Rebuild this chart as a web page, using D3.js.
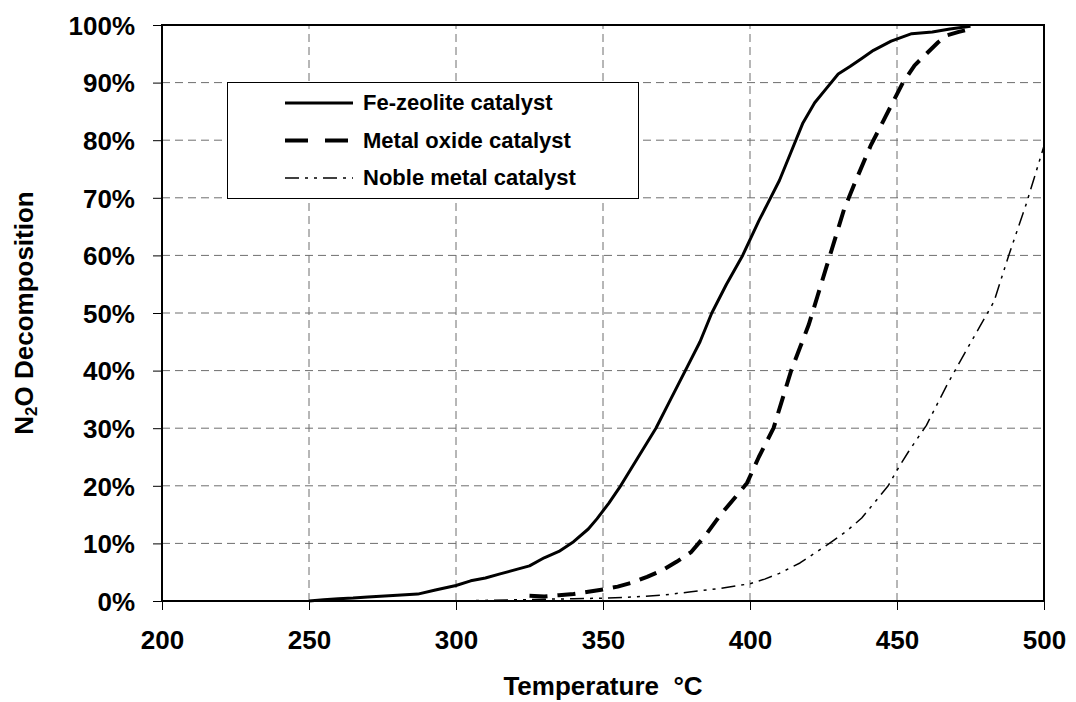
<!DOCTYPE html>
<html>
<head>
<meta charset="utf-8">
<script src="https://cdnjs.cloudflare.com/ajax/libs/d3/7.8.5/d3.min.js"></script>
<style>
  body { margin: 0; background: #fff; }
  svg { display: block; font-family: "Liberation Sans", Arial, sans-serif; font-weight: bold; }
</style>
</head>
<body>
<div id="chart"></div>
<script>
// temperatures (°C) and conversion (%)
var tempFe = [250, 255, 260, 265, 270, 280, 287, 293, 300, 305, 310, 315, 320, 325, 330, 335, 340, 345, 348, 352, 356, 362, 368, 373, 378, 383, 387, 392, 397.5, 403, 406, 410, 414, 418, 422, 426, 430, 434, 438, 442, 448, 455, 462, 468, 475];
var convFe = [0, 0.2, 0.4, 0.5, 0.7, 1.0, 1.2, 1.9, 2.7, 3.5, 4.0, 4.7, 5.4, 6.1, 7.5, 8.6, 10.3, 12.5, 14.3, 17, 20, 25, 30, 35, 40, 45, 50, 55, 60, 66, 69, 73, 78, 83, 86.5, 89, 91.5, 92.8, 94.2, 95.6, 97.2, 98.5, 98.8, 99.3, 99.8];

var tempOxide = [325, 330, 335, 340, 345, 350, 355, 360, 365, 370, 375, 380, 385, 390, 395, 399, 403, 408, 411, 414, 417, 420, 423, 426, 429, 432, 436, 441, 446, 452, 456, 460, 464, 467, 471, 475];
var convOxide = [0.9, 0.8, 1.0, 1.2, 1.6, 2.0, 2.5, 3.2, 4.2, 5.3, 6.8, 8.5, 11.5, 15, 18, 20.5, 25, 30, 35, 40, 44, 48, 53, 58, 63, 68, 73, 79, 84, 90, 93, 95, 97, 98.2, 98.8, 99.3];

var tempNoble = [300, 310, 320, 330, 340, 350, 360, 370, 380, 390, 400, 405, 410, 417, 422, 427, 433, 438, 443, 447, 450, 454, 460, 467, 473, 478, 483, 488, 494, 500];
var convNoble = [0, 0.1, 0.2, 0.3, 0.4, 0.5, 0.7, 1.0, 1.6, 2.2, 3.0, 3.8, 4.8, 6.6, 8.3, 10, 12.2, 14.4, 17.5, 20, 22.7, 26, 30.5, 37.5, 43, 47.5, 52, 60, 69, 79];

var xTicks = [200, 250, 300, 350, 400, 450, 500];
var yTicks = [0, 10, 20, 30, 40, 50, 60, 70, 80, 90, 100];
var seriesNames = ["Fe-zeolite catalyst", "Metal oxide catalyst", "Noble metal catalyst"];

var width = 1076, height = 702;
var margin = {top: 25, right: 32, bottom: 101, left: 162};

var svg = d3.select("#chart").append("svg")
    .attr("width", width)
    .attr("height", height);

var x = d3.scaleLinear().domain([200, 500]).range([margin.left, width - margin.right]);
var y = d3.scaleLinear().domain([0, 100]).range([height - margin.bottom, margin.top]);

// grid
svg.append("g")
    .selectAll("line")
    .data(yTicks.slice(1, -1))
    .join("line")
    .attr("x1", x(200)).attr("x2", x(500))
    .attr("y1", d => y(d)).attr("y2", d => y(d))
    .attr("stroke", "#6e6e6e")
    .attr("stroke-dasharray", "8,5");

svg.append("g")
    .selectAll("line")
    .data(xTicks.slice(1, -1))
    .join("line")
    .attr("x1", d => x(d)).attr("x2", d => x(d))
    .attr("y1", y(0)).attr("y2", y(100))
    .attr("stroke", "#6e6e6e")
    .attr("stroke-dasharray", "8,5");

// axes
var yAxis = d3.axisLeft(y)
    .tickValues(yTicks)
    .tickSize(9)
    .tickPadding(18)
    .tickFormat(d => d + "%");

var xAxis = d3.axisBottom(x)
    .tickValues(xTicks)
    .tickSize(9)
    .tickPadding(21);

var gy = svg.append("g")
    .attr("transform", `translate(${margin.left},0)`)
    .call(yAxis);
gy.select(".domain").remove();
gy.selectAll(".tick line").attr("stroke", "#000");
gy.selectAll(".tick text")
    .attr("font-size", 26)
    .attr("font-family", "Liberation Sans, Arial, sans-serif")
    .attr("font-weight", "bold")
    .attr("fill", "#000")
    .attr("dy", "0.36em");

var gx = svg.append("g")
    .attr("transform", `translate(0,${height - margin.bottom})`)
    .call(xAxis);
gx.select(".domain").remove();
gx.selectAll(".tick line").attr("stroke", "#000");
gx.selectAll(".tick text")
    .attr("font-size", 26)
    .attr("font-family", "Liberation Sans, Arial, sans-serif")
    .attr("font-weight", "bold")
    .attr("fill", "#000");

// plot frame
svg.append("rect")
    .attr("x", x(200)).attr("y", y(100))
    .attr("width", x(500) - x(200))
    .attr("height", y(0) - y(100))
    .attr("fill", "none")
    .attr("stroke", "#000")
    .attr("stroke-width", 2);

// curves
var line = d3.line()
    .x(d => x(d[0]))
    .y(d => y(d[1]));

var styles = [
    {width: 3, dash: null},
    {width: 4, dash: "18,10"},
    {width: 1.5, dash: "14,6,3,6,3,6"}
];

var series = [
    d3.zip(tempFe, convFe),
    d3.zip(tempOxide, convOxide),
    d3.zip(tempNoble, convNoble)
];

svg.append("g")
    .selectAll("path")
    .data(series)
    .join("path")
    .attr("d", line)
    .attr("fill", "none")
    .attr("stroke", "#000")
    .attr("stroke-width", (d, i) => styles[i].width)
    .attr("stroke-dasharray", (d, i) => styles[i].dash)
    .attr("stroke-linejoin", "round");

// legend
var legend = svg.append("g");
legend.append("rect")
    .attr("x", 227.5).attr("y", 82.5)
    .attr("width", 411).attr("height", 116)
    .attr("fill", "#fff")
    .attr("stroke", "#000")
    .attr("stroke-width", 1);

var rows = legend.selectAll("g.row")
    .data(seriesNames)
    .join("g")
    .attr("class", "row")
    .attr("transform", (d, i) => `translate(0,${103 + i * 37.5})`);

rows.append("line")
    .attr("x1", 285).attr("x2", 353)
    .attr("stroke", "#000")
    .attr("stroke-width", (d, i) => styles[i].width)
    .attr("stroke-dasharray", (d, i) => i == 1 ? "23,17" : styles[i].dash);

rows.append("text")
    .attr("x", 363)
    .attr("y", 7)
    .attr("font-size", 22)
    .text(d => d);

// axis titles
svg.append("text")
    .attr("x", (x(200) + x(500)) / 2)
    .attr("y", 695)
    .attr("text-anchor", "middle")
    .attr("font-size", 26)
    .text("Temperature\u00a0 °C");

var yt = svg.append("text")
    .attr("transform", `translate(33,${(y(0) + y(100)) / 2}) rotate(-90)`)
    .attr("text-anchor", "middle")
    .attr("font-size", 26);
yt.append("tspan").text("N");
yt.append("tspan").attr("font-size", 17).attr("dy", 4).text("2");
yt.append("tspan").attr("dy", -4).text("O Decomposition");
</script>
</body>
</html>
